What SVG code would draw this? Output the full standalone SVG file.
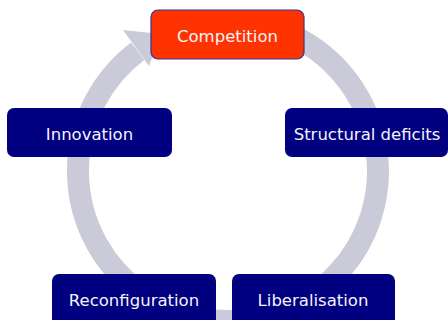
<svg xmlns="http://www.w3.org/2000/svg" width="448" height="320" viewBox="0 0 448 320">
  <style>
    .box { fill: #000080; }
    .hot { fill: #ff3300; stroke: #333399; stroke-width: 1.2; }
    .label { font-family: "DejaVu Sans", Verdana, sans-serif; font-size: 16.5px; fill: #f4f4f8; text-anchor: middle; }
    .ring { fill: none; stroke: #cacad8; stroke-width: 22; }
    .head { fill: #cacad8; }
  </style>
  <rect width="448" height="320" fill="#ffffff"/>

  <!-- cycle arrow running clockwise back into the top node -->
  <g id="connectors">
    <path class="ring" d="M 228 21 A 150 150 0 1 1 137.7 51.2"/>
    <polygon class="head" points="123,30 161,34 149,66"/>
  </g>

  <g id="competition">
    <rect class="hot" x="151" y="10" width="153" height="49" rx="7"/>
    <text class="label" x="227.5" y="42">Competition</text>
  </g>

  <g id="innovation">
    <rect class="box" x="7" y="108" width="165" height="49" rx="7"/>
    <text class="label" x="89.5" y="139.5">Innovation</text>
  </g>

  <g id="structural-deficits">
    <rect class="box" x="285" y="108" width="163" height="49" rx="7"/>
    <text class="label" x="367" y="139.5">Structural deficits</text>
  </g>

  <g id="reconfiguration">
    <rect class="box" x="52" y="274" width="164" height="56" rx="7"/>
    <text class="label" x="134" y="305.5">Reconfiguration</text>
  </g>

  <g id="liberalisation">
    <rect class="box" x="232" y="274" width="163" height="56" rx="7"/>
    <text class="label" x="313" y="305.5">Liberalisation</text>
  </g>
</svg>
